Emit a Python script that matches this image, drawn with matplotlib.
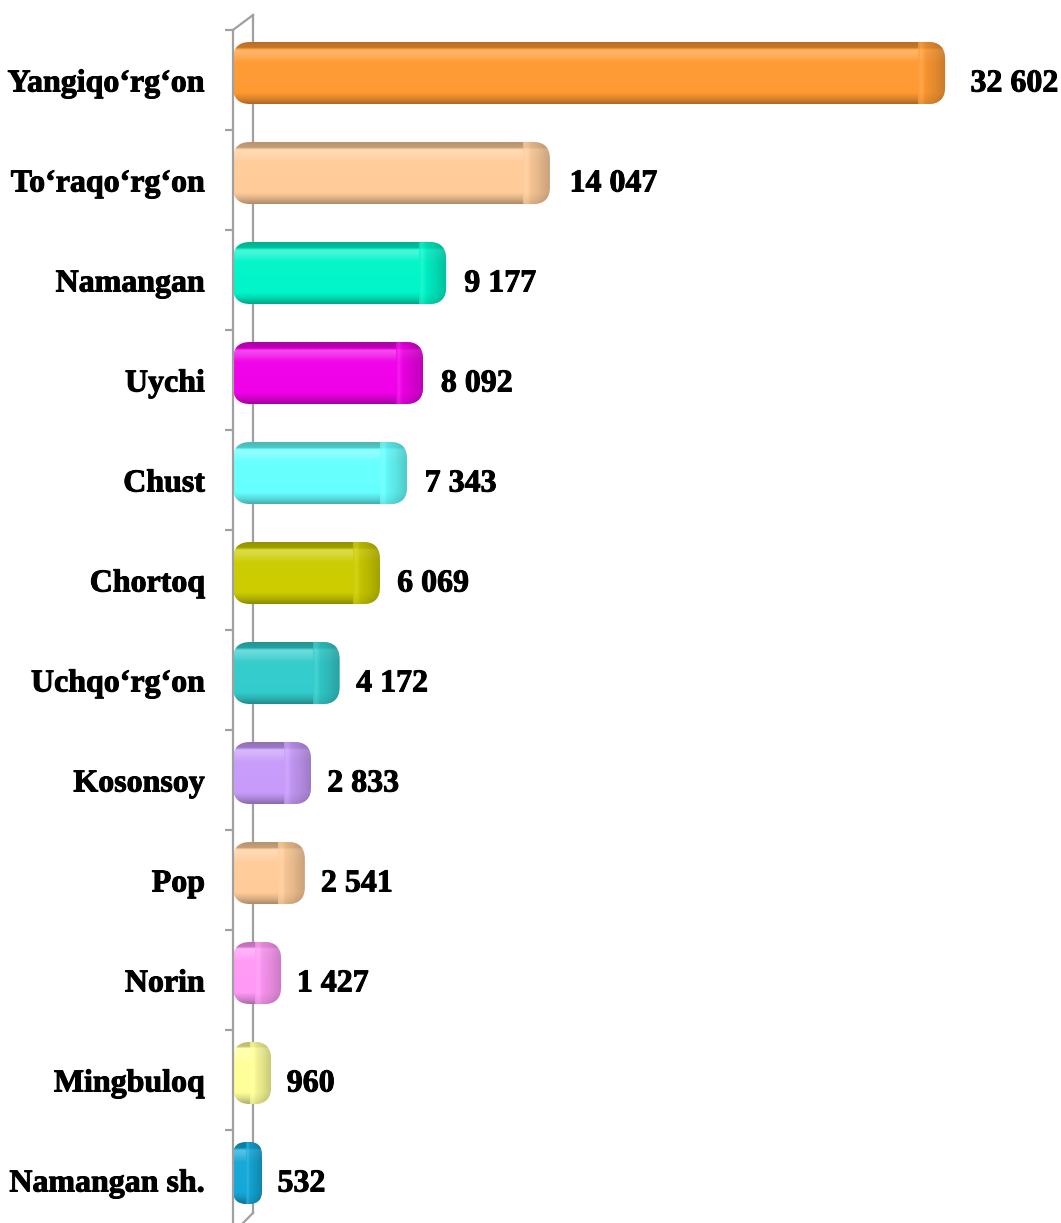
import numpy as np
import matplotlib
matplotlib.use("Agg")
import matplotlib.pyplot as plt
import matplotlib.patheffects as pe
from matplotlib.patches import FancyBboxPatch
from matplotlib.colors import to_rgb

districts = ["Yangiqo‘rg‘on", "To‘raqo‘rg‘on", "Namangan", "Uychi", "Chust", "Chortoq",
             "Uchqo‘rg‘on", "Kosonsoy", "Pop", "Norin", "Mingbuloq", "Namangan sh."]
values = [32602, 14047, 9177, 8092, 7343, 6069, 4172, 2833, 2541, 1427, 960, 532]
value_labels = ["32 602", "14 047", "9 177", "8 092", "7 343", "6 069",
                "4 172", "2 833", "2 541", "1 427", "960", "532"]
bar_colors = ["#FF9A33", "#FFCC99", "#00F5C8", "#F000E8", "#66FFFF", "#CCCC00",
              "#33CCCC", "#C89BFA", "#FFCC99", "#FF99F5", "#FFFF99", "#14A8D8"]

plt.rcParams["font.family"] = ["Liberation Serif", "DejaVu Serif"]

W, H = 1061, 1223
fig = plt.figure(figsize=(W / 100, H / 100), dpi=100)
ax = fig.add_axes([233 / W, -7 / H, 828 / W, 1200 / H])

PX = 46.95   # data units per pixel, x
PY = 0.01    # data units per pixel, y
xmax = 828 * PX
heavy = [pe.withStroke(linewidth=0.7, foreground="black")]


def shade(c, f):
    c = np.array(to_rgb(c))
    if f < 1:
        return c * f
    return c + (1 - c) * (f - 1)


def vgrad(c, n=120):
    t = np.linspace(0, 1, n)
    pts = [0.0, 0.09, 0.13, 0.2, 0.32, 0.82, 0.92, 1.0]
    fac = [0.72, 0.78, 1.3, 1.22, 1.02, 1.0, 0.85, 0.68]
    f = np.interp(t, pts, fac)
    img = np.array([shade(c, fi) for fi in f])
    return img.reshape(n, 1, 3)


def hgrad(c, n=60):
    t = np.linspace(0, 1, n)
    pts = [0.0, 0.1, 0.25, 0.6, 1.0]
    fac = [1.0, 1.18, 0.95, 0.85, 0.7]
    f = np.interp(t, pts, fac)
    img = np.array([shade(c, fi) for fi in f])
    return img.reshape(1, n, 3)


half = 31 * PY
depth = 17.7 * PX
for k, (v, c) in enumerate(zip(values, bar_colors)):
    yc = k - 0.07
    x1 = v + depth
    r = min(17 * PX, x1 * 0.45)
    patch = FancyBboxPatch((0, yc - half), x1, 2 * half,
                           boxstyle="round,pad=0,rounding_size=%f" % r,
                           mutation_aspect=PY / PX, fc="none", ec="none")
    ax.add_patch(patch)
    im = ax.imshow(vgrad(c), extent=(0, x1, yc + half, yc - half),
                   aspect="auto", interpolation="bilinear", zorder=2)
    im.set_clip_path(patch)
    capw = min(27 * PX, x1 * 0.55)
    cap = ax.imshow(hgrad(c), extent=(x1 - capw, x1, yc + half, yc - half),
                    aspect="auto", interpolation="bilinear", zorder=3, alpha=0.7)
    cap.set_clip_path(patch)
    ax.text(v * 1.0145 + 33 * PX, k + 0.04, value_labels[k], fontsize=23,
            fontweight="bold", ha="left", va="center", path_effects=heavy)

ax.set_xlim(0, xmax)
ax.set_ylim(len(districts) - 0.5, -0.5)

# wall of the 3D chart
wall = "#A0A0A0"
bx = 20 * PX
ax.plot([bx, bx], [-0.5 - 0.15, len(districts) - 0.5 - 0.17], color=wall, lw=1.6,
        clip_on=False, zorder=1)
ax.plot([0, bx], [-0.5, -0.65], color=wall, lw=1.6, clip_on=False, zorder=1)
ax.plot([0, bx], [len(districts) - 0.5 + 0.03, len(districts) - 0.5 - 0.17],
        color=wall, lw=1.6, clip_on=False, zorder=1)

for s in ["top", "right", "bottom"]:
    ax.spines[s].set_visible(False)
ax.spines["left"].set_color(wall)
ax.spines["left"].set_linewidth(1.6)
ax.set_xticks([])
ax.set_yticks(np.arange(len(districts)))
ax.set_yticklabels([])
ax.tick_params(axis="y", which="major", length=0)
ax.set_yticks(np.arange(len(districts) + 1) - 0.5, minor=True)
ax.tick_params(axis="y", which="minor", length=6, width=1.6, color=wall)

for k, name in enumerate(districts):
    ax.text(-28 * PX, k + 0.04, name, fontsize=23, fontweight="bold",
            ha="right", va="center", clip_on=False, path_effects=heavy)

fig.savefig("out.png", dpi=100)
